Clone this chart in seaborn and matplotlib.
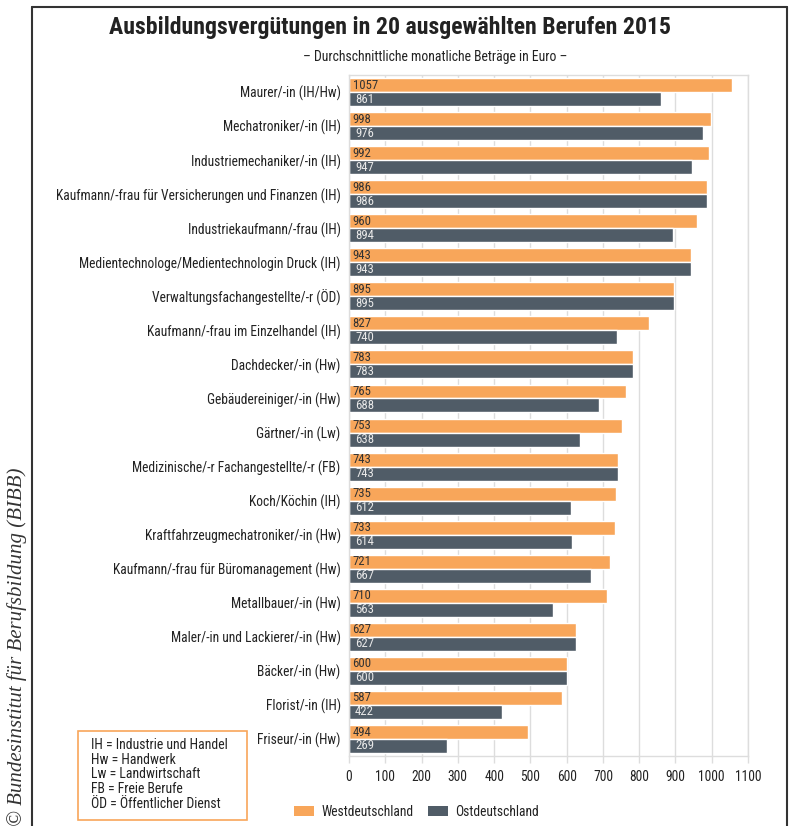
#importing necessary libraries
import numpy as np
import pandas as pd
import matplotlib.pyplot as plt
import seaborn as sns
from matplotlib import font_manager
from matplotlib.patches import Patch, Rectangle
from matplotlib.lines import Line2D

#data
berufe = [
    "Maurer/-in (IH/Hw)",
    "Mechatroniker/-in (IH)",
    "Industriemechaniker/-in (IH)",
    "Kaufmann/-frau für Versicherungen und Finanzen (IH)",
    "Industriekaufmann/-frau (IH)",
    "Medientechnologe/Medientechnologin Druck (IH)",
    "Verwaltungsfachangestellte/-r (ÖD)",
    "Kaufmann/-frau im Einzelhandel (IH)",
    "Dachdecker/-in (Hw)",
    "Gebäudereiniger/-in (Hw)",
    "Gärtner/-in (Lw)",
    "Medizinische/-r Fachangestellte/-r (FB)",
    "Koch/Köchin (IH)",
    "Kraftfahrzeugmechatroniker/-in (Hw)",
    "Kaufmann/-frau für Büromanagement (Hw)",
    "Metallbauer/-in (Hw)",
    "Maler/-in und Lackierer/-in (Hw)",
    "Bäcker/-in (Hw)",
    "Florist/-in (IH)",
    "Friseur/-in (Hw)",
]
west = [1057, 998, 992, 986, 960, 943, 895, 827, 783, 765, 753, 743, 735, 733, 721, 710, 627, 600, 587, 494]
ost = [861, 976, 947, 986, 894, 943, 895, 740, 783, 688, 638, 743, 612, 614, 667, 563, 627, 600, 422, 269]
regionen = ["Westdeutschland", "Ostdeutschland"]
x_ticks = list(range(0, 1101, 100))
abkuerzungen = [
    "IH = Industrie und Handel",
    "Hw = Handwerk",
    "Lw = Landwirtschaft",
    "FB = Freie Berufe",
    "ÖD = Öffentlicher Dienst",
]
titel = "Ausbildungsvergütungen in 20 ausgewählten Berufen 2015"
untertitel = "– Durchschnittliche monatliche Beträge in Euro –"

farbe_west = "#F8A65A"
farbe_ost = "#505C67"

sns.set_theme(style="white")

#the original uses a condensed grotesk; take a narrow face if one is installed
installiert = {f.name for f in font_manager.fontManager.ttflist}
schmal = [n for n in ['Liberation Sans Narrow', 'Roboto Condensed', 'Open Sans Condensed',
                      'Noto Sans Condensed', 'DejaVu Sans Condensed'] if n in installiert]
plt.rcParams['font.family'] = schmal + ['Roboto', 'DejaVu Sans']
plt.rcParams['font.stretch'] = 'condensed'
plt.rcParams['text.color'] = '#222222'

df = pd.DataFrame({
    "Beruf": berufe + berufe,
    "Betrag": west + ost,
    "Region": [regionen[0]] * len(berufe) + [regionen[1]] * len(berufe),
})

fig = plt.figure(figsize=(7.89, 8.26), dpi=100)
renderer = fig.canvas.get_renderer()


def groesse_fuer(text, breite_px, **kw):
    #font size that makes a text as wide as in the reference
    t = fig.text(0, 0, text, fontsize=10, **kw)
    w = t.get_window_extent(renderer=renderer).width
    t.remove()
    return 10 * breite_px / w


fs_label = min(10.5, groesse_fuer(berufe[3], 285))
fs_titel = groesse_fuer(titel, 560, fontweight='bold')
fs_sub = groesse_fuer(untertitel, 266)
fs_box = min(10.5, groesse_fuer(abkuerzungen[4], 130))
fs_wert = min(fs_label, groesse_fuer("1057", 25))

ax = fig.add_axes([0.4423, 0.0847, 0.5057, 0.8245])

sns.barplot(data=df, y="Beruf", x="Betrag", hue="Region",
            palette=[farbe_west, farbe_ost], saturation=1, width=0.82,
            ax=ax, legend=False, orient="h")

#value labels inside the bars
for container, farbe, x0 in zip(ax.containers, ['#333333', '#E8E8E8'], [10, 17]):
    for bar in container:
        wert = bar.get_width()
        ax.text(x0, bar.get_y() + bar.get_height() / 2, f"{wert:.0f}",
                ha='left', va='center', fontsize=fs_wert, color=farbe)

ax.set_xlim(0, 1100)
ax.set_ylim(len(berufe) - 0.5, -0.5)
ax.set_xticks(x_ticks)
ax.set_xlabel("")
ax.set_ylabel("")
ax.set_axisbelow(True)
ax.grid(axis='x', color='#DDDDDD', lw=1)
ax.grid(axis='y', visible=False)
for s in ax.spines.values():
    s.set_color('#DDDDDD')
    s.set_linewidth(1)
ax.tick_params(axis='y', length=0, pad=6, labelsize=fs_label, labelcolor='#222222')
ax.tick_params(axis='x', bottom=True, length=5, width=1, color='#DDDDDD',
               pad=5, labelsize=fs_label, labelcolor='#222222')

#title and subtitle
fig.text(0.494, 0.967, titel, ha='center', va='center', fontsize=fs_titel, fontweight='bold')
fig.text(0.552, 0.931, untertitel, ha='center', va='center', fontsize=fs_sub)

#legend
handles = [Patch(facecolor=farbe_west, edgecolor='none'),
           Patch(facecolor=farbe_ost, edgecolor='none')]
fig.legend(handles, regionen, loc='center', bbox_to_anchor=(0.528, 0.017),
           ncol=2, frameon=False, fontsize=fs_label, handlelength=1.45,
           handleheight=0.8, columnspacing=1.1, handletextpad=0.55)

#box with abbreviations
fig.patches.append(Rectangle((0.0989, 0.0073), 0.2142, 0.1077, transform=fig.transFigure,
                             facecolor='white', edgecolor=farbe_west, lw=1.2))
for i, zeile in enumerate(abkuerzungen):
    fig.text(0.1153, 0.098 - i * 0.0178, zeile, ha='left', va='center', fontsize=fs_box)

#copyright text on the left
fig.text(0.022, 0.217, "© Bundesinstitut für Berufsbildung (BIBB)", rotation=90,
         ha='center', va='center', fontsize=15, style='italic',
         family=['Liberation Serif', 'DejaVu Serif'], color='#333333')

#outer frame
rahmen = dict(color='#333333', lw=1.5, transform=fig.transFigure)
fig.lines.append(Line2D([0.0406, 0.0406], [0.0, 0.9915], **rahmen))
fig.lines.append(Line2D([0.0406, 0.9975], [0.9915, 0.9915], **rahmen))
fig.lines.append(Line2D([0.9975, 0.9975], [0.0, 0.9915], **rahmen))

plt.savefig("out.png", dpi=100)
plt.close()
